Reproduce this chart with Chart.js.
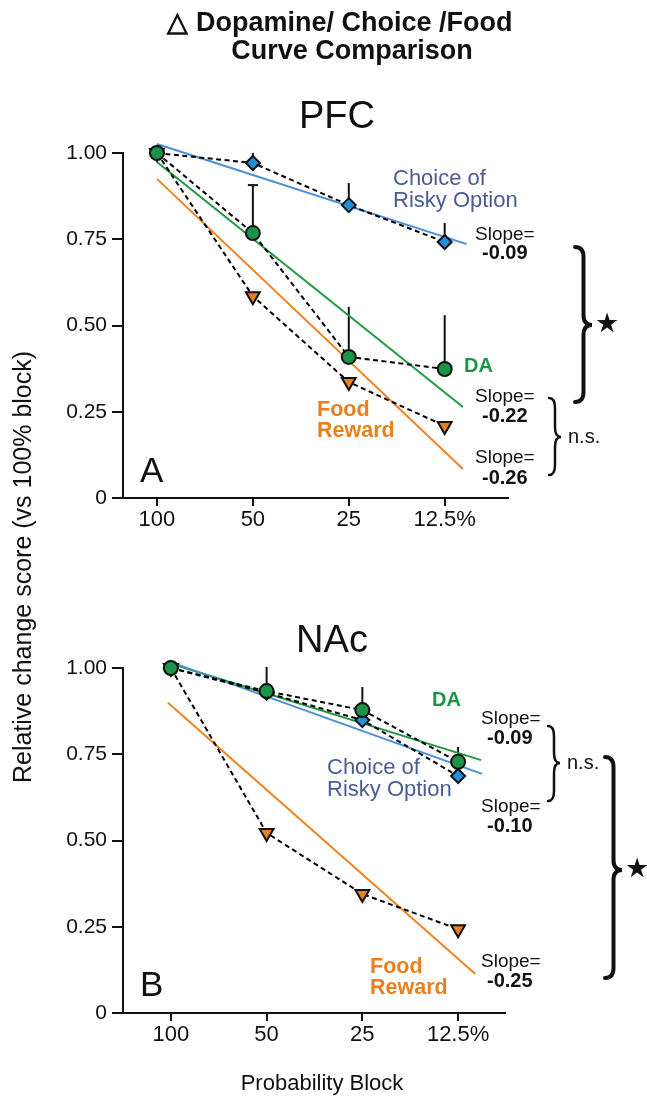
<!DOCTYPE html>
<html>
<head>
<meta charset="utf-8">
<script src="https://cdn.jsdelivr.net/npm/chart.js@4"></script>
<style>
  html, body { margin: 0; padding: 0; background: #fff; }
  #wrap { position: relative; width: 647px; height: 1097px; }
  canvas { position: absolute; left: 0; top: 0; }
</style>
</head>
<body>
<div id="wrap">
  <canvas id="pfc" width="647" height="1097"></canvas>
  <canvas id="nac" width="647" height="1097"></canvas>
</div>
<script>
// categories and ticks
const blocks = ['100', '50', '25', '12.5%'];
const yTicks = [0, 0.25, 0.5, 0.75, 1];

// PFC (panel A)
const pfcDA = [1.00, 0.768, 0.409, 0.374];
const pfcDAErr = [null, 0.907, 0.554, 0.530];
const pfcChoice = [1.00, 0.971, 0.849, 0.742];
const pfcChoiceErr = [null, 1.00, 0.913, 0.797];
const pfcFood = [1.00, 0.585, 0.336, 0.209];
const pfcFitDA = [[0, 0.974], [3.19, 0.264]];
const pfcFitChoice = [[0, 1.026], [3.23, 0.736]];
const pfcFitFood = [[0, 0.925], [3.19, 0.084]];

// NAc (panel B)
const nacDA = [1.00, 0.933, 0.878, 0.728];
const nacDAErr = [null, 1.003, 0.945, 0.771];
const nacChoice = [1.00, 0.928, 0.849, 0.687];
const nacFood = [1.00, 0.522, 0.345, 0.243];
const nacFitDA = [[-0.03, 1.015], [3.24, 0.733]];
const nacFitChoice = [[-0.03, 1.02], [3.25, 0.693]];
const nacFitFood = [[-0.03, 0.899], [3.18, 0.113]];

const FONT = 'Arial, "Liberation Sans", sans-serif';
const GREEN = '#1b9447', BLUE = '#2190dc', ORANGE = '#e8801e';
const FIT_GREEN = '#1f9a3e', FIT_BLUE = '#4a8fd6', FIT_ORANGE = '#f2821f';
const SLATE = '#4b5b93';

function pts(arr) { return arr.map((y, i) => ({ x: i, y: y })); }
function fit(arr) { return arr.map(p => ({ x: p[0], y: p[1] })); }

function markerSet(data, style, fill, rot, radius) {
    return {
        type: 'line', data: pts(data), order: 1, clip: false,
        borderColor: '#000', borderWidth: 2, borderDash: [5, 3.5],
        pointStyle: style, pointRotation: rot, pointRadius: radius,
        pointBackgroundColor: fill, pointBorderColor: '#111', pointBorderWidth: 2
    };
}
function fitSet(data, color) {
    return {
        type: 'line', data: fit(data), order: 5, clip: false,
        borderColor: color, borderWidth: 2, pointRadius: 0
    };
}

function text(ctx, s, x, y, size, color, bold, align, family) {
    ctx.save();
    ctx.font = (bold ? 'bold ' : '') + size + 'px ' + (family || FONT);
    ctx.fillStyle = color;
    ctx.textAlign = align || 'left';
    ctx.textBaseline = 'middle';
    ctx.fillText(s, x, y);
    ctx.restore();
}

function brace(ctx, x, y1, y2, ym, w, lw) {
    const h = w / 2, r = Math.min(10, (ym - y1) / 3);
    ctx.save();
    ctx.strokeStyle = '#111';
    ctx.lineWidth = lw;
    ctx.lineCap = 'round';
    ctx.beginPath();
    ctx.moveTo(x, y1);
    ctx.quadraticCurveTo(x + h, y1, x + h, y1 + r);
    ctx.lineTo(x + h, ym - r);
    ctx.quadraticCurveTo(x + h, ym, x + w, ym);
    ctx.quadraticCurveTo(x + h, ym, x + h, ym + r);
    ctx.lineTo(x + h, y2 - r);
    ctx.quadraticCurveTo(x + h, y2, x, y2);
    ctx.stroke();
    ctx.restore();
}

function star(ctx, x, y) {
    text(ctx, '\u2605', x, y, 27, '#111', false, 'center', '"DejaVu Sans", sans-serif');
}

// upper-only error bars, drawn under the markers
function errorBars(errs) {
    return {
        id: 'errbars',
        beforeDatasetsDraw(chart) {
            const ctx = chart.ctx, xs = chart.scales.x, ys = chart.scales.y;
            ctx.save();
            ctx.strokeStyle = '#111';
            ctx.lineWidth = 2;
            errs.forEach(e => {
                e.values.forEach((v, i) => {
                    if (v === null) return;
                    const px = xs.getPixelForValue(i);
                    ctx.beginPath();
                    ctx.moveTo(px, ys.getPixelForValue(e.base[i]));
                    ctx.lineTo(px, ys.getPixelForValue(v));
                    ctx.stroke();
                    if (e.caps && e.caps[i]) {
                        ctx.beginPath();
                        ctx.moveTo(px - 5, ys.getPixelForValue(v));
                        ctx.lineTo(px + 5, ys.getPixelForValue(v));
                        ctx.stroke();
                    }
                });
            });
            ctx.restore();
        }
    };
}

function makeChart(id, cfg) {
    const area = cfg.area;
    return new Chart(document.getElementById(id), {
        type: 'line',
        data: {
            // first marker set ends up on top
            datasets: [
                fitSet(cfg.fitChoice, FIT_BLUE),
                fitSet(cfg.fitDA, FIT_GREEN),
                fitSet(cfg.fitFood, FIT_ORANGE),
                markerSet(cfg.da, 'circle', GREEN, 0, 7),
                markerSet(cfg.choice, 'rectRot', BLUE, 0, 7),
                markerSet(cfg.food, 'triangle', ORANGE, 180, 8)
            ]
        },
        options: {
            responsive: false,
            animation: false,
            events: [],
            layout: { padding: { left: 0, top: area.top, right: 647 - area.right, bottom: 1097 - area.bottom - 40 } },
            plugins: { legend: { display: false }, tooltip: { enabled: false } },
            scales: {
                x: {
                    type: 'linear', min: cfg.xMin, max: cfg.xMax,
                    afterBuildTicks: s => { s.ticks = blocks.map((b, i) => ({ value: i })); },
                    afterFit: s => { s.height = 40; },
                    ticks: { autoSkip: false, padding: 1, color: '#111', font: { family: FONT, size: 22 },
                             callback: v => blocks[v] },
                    grid: { drawOnChartArea: false, drawTicks: true, tickLength: 8, color: '#111', lineWidth: 2 },
                    border: { display: true, color: '#111', width: 2 }
                },
                y: {
                    min: 0, max: 1,
                    afterBuildTicks: s => { s.ticks = yTicks.map(v => ({ value: v })); },
                    afterFit: s => { s.width = area.left; },
                    ticks: { padding: 5, color: '#111', font: { family: FONT, size: 21 },
                             callback: v => v === 0 ? '0' : v.toFixed(2) },
                    grid: { drawOnChartArea: false, drawTicks: true, tickLength: 11, color: '#111', lineWidth: 2 },
                    border: { display: true, color: '#111', width: 2 }
                }
            }
        },
        plugins: [errorBars(cfg.errs), { id: 'decor', afterDraw: c => cfg.decor(c.ctx) }]
    });
}

makeChart('pfc', {
    area: { left: 123, right: 508, top: 153, bottom: 498 },
    xMin: -0.354, xMax: 3.66,
    da: pfcDA, choice: pfcChoice, food: pfcFood,
    fitDA: pfcFitDA, fitChoice: pfcFitChoice, fitFood: pfcFitFood,
    errs: [
        { values: pfcChoiceErr, base: pfcChoice },
        { values: pfcDAErr, base: pfcDA, caps: [false, true, false, false] }
    ],
    decor: ctx => {
        text(ctx, '\u25B3 Dopamine/ Choice /Food', 340, 24, 27, '#111', true, 'center');
        text(ctx, 'Curve Comparison', 352, 52, 27, '#111', true, 'center');
        text(ctx, 'PFC', 337, 118, 38, '#111', false, 'center');
        text(ctx, 'Choice of', 393, 179, 22, SLATE, false);
        text(ctx, 'Risky Option', 393, 201, 22, SLATE, false);
        text(ctx, 'DA', 464, 366, 20, GREEN, true);
        text(ctx, 'Food', 317, 410, 21.5, ORANGE, true);
        text(ctx, 'Reward', 317, 431, 21.5, ORANGE, true);
        text(ctx, 'A', 140, 472, 35, '#111', false);
        text(ctx, 'Slope=', 475, 235, 19, '#111', false);
        text(ctx, '-0.09', 482, 253, 20, '#111', true);
        text(ctx, 'Slope=', 475, 397, 19, '#111', false);
        text(ctx, '-0.22', 482, 416, 20, '#111', true);
        text(ctx, 'Slope=', 475, 458, 19, '#111', false);
        text(ctx, '-0.26', 482, 478, 20, '#111', true);
        brace(ctx, 575, 247, 402, 325, 17, 4);
        star(ctx, 607, 325);
        brace(ctx, 549, 398, 475, 437, 12, 2.5);
        text(ctx, 'n.s.', 568, 437, 20, '#111', false);
        // shared axis titles
        text(ctx, 'Probability Block', 322, 1084, 22, '#111', false, 'center');
        ctx.save();
        ctx.translate(24, 567);
        ctx.rotate(-Math.PI / 2);
        text(ctx, 'Relative change score (vs 100% block)', 0, 0, 25, '#111', false, 'center');
        ctx.restore();
    }
});

makeChart('nac', {
    area: { left: 123, right: 505, top: 668, bottom: 1013 },
    xMin: -0.50, xMax: 3.49,
    da: nacDA, choice: nacChoice, food: nacFood,
    fitDA: nacFitDA, fitChoice: nacFitChoice, fitFood: nacFitFood,
    errs: [
        { values: nacDAErr, base: nacDA }
    ],
    decor: ctx => {
        text(ctx, 'NAc', 332, 642, 38, '#111', false, 'center');
        text(ctx, 'DA', 432, 700, 20, GREEN, true);
        text(ctx, 'Choice of', 327, 768, 22, SLATE, false);
        text(ctx, 'Risky Option', 327, 790, 22, SLATE, false);
        text(ctx, 'Food', 370, 967, 21.5, ORANGE, true);
        text(ctx, 'Reward', 370, 988, 21.5, ORANGE, true);
        text(ctx, 'B', 140, 986, 35, '#111', false);
        text(ctx, 'Slope=', 481, 719, 19, '#111', false);
        text(ctx, '-0.09', 487, 738, 20, '#111', true);
        text(ctx, 'Slope=', 481, 807, 19, '#111', false);
        text(ctx, '-0.10', 487, 826, 20, '#111', true);
        text(ctx, 'Slope=', 481, 962, 19, '#111', false);
        text(ctx, '-0.25', 487, 981, 20, '#111', true);
        brace(ctx, 548, 726, 801, 763, 12, 2.5);
        text(ctx, 'n.s.', 567, 763, 20, '#111', false);
        brace(ctx, 605, 757, 978, 870, 17, 4);
        star(ctx, 637, 870);
    }
});
</script>
</body>
</html>
